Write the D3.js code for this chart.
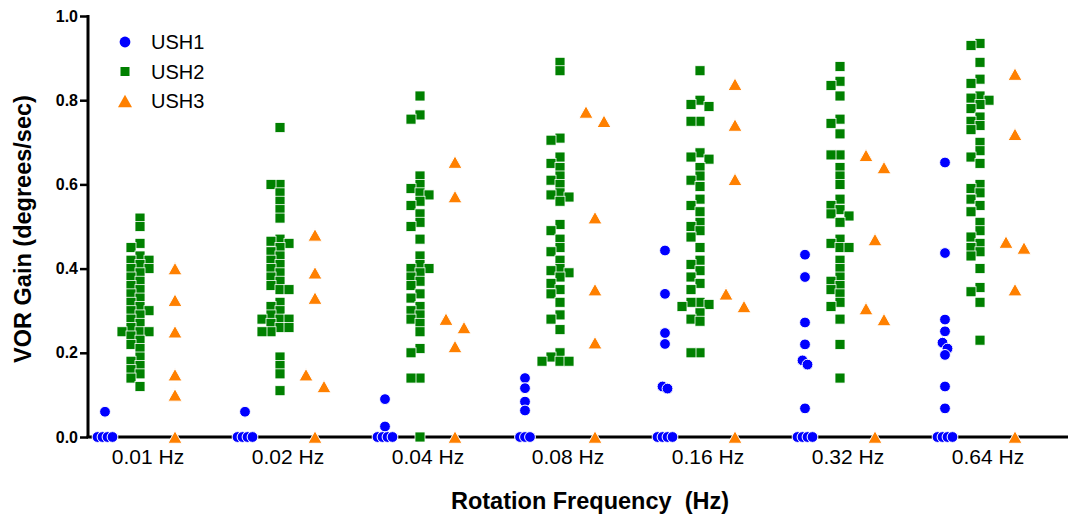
<!DOCTYPE html>
<html><head><meta charset="utf-8">
<script src="https://cdn.jsdelivr.net/npm/d3@7"></script>
<style>
body{margin:0;background:#fff}
svg{display:block}
text{font-family:"Liberation Sans",Arial,Helvetica,sans-serif;fill:#000;white-space:pre}
</style>
</head><body>
<svg id="chart" width="1068" height="515"></svg>
<script>
// ---------------- data ----------------
const frequencies = ["0.01 Hz","0.02 Hz","0.04 Hz","0.08 Hz","0.16 Hz","0.32 Hz","0.64 Hz"];
const seriesNames = ["USH1","USH2","USH3"];
const yTickValues = [0.0,0.2,0.4,0.6,0.8,1.0];
const yTitle = "VOR Gain (degrees/sec)";
const xTitle = "Rotation Frequency  (Hz)";

// USH1 (circles), one list per frequency
const ush1 = [
  [0.06,0,0,0,0],
  [0.06,0,0,0,0],
  [0.09,0.025,0,0,0,0],
  [0.14,0.116,0.084,0.063,0,0,0],
  [0.443,0.34,0.247,0.221,0.12,0.115,0,0,0,0],
  [0.433,0.38,0.272,0.22,0.182,0.172,0.068,0,0,0,0],
  [0.652,0.437,0.279,0.251,0.224,0.21,0.195,0.12,0.068,0,0,0,0]
];
// USH2 (squares)
const ush2 = [
  [0.52,0.50,0.46,0.45,0.43,0.42,0.42,0.41,0.40,0.40,0.39,0.38,0.37,0.36,0.35,0.34,0.33,0.32,0.31,0.30,0.30,0.29,0.28,0.27,0.26,0.25,0.25,0.25,0.24,0.23,0.22,0.21,0.19,0.18,0.17,0.16,0.15,0.14,0.12],
  [0.735,0.60,0.60,0.58,0.56,0.54,0.52,0.47,0.465,0.46,0.45,0.44,0.43,0.42,0.41,0.40,0.39,0.38,0.37,0.36,0.35,0.35,0.32,0.31,0.30,0.29,0.28,0.28,0.28,0.27,0.26,0.26,0.25,0.25,0.19,0.17,0.15,0.11],
  [0.81,0.765,0.755,0.62,0.60,0.59,0.58,0.575,0.56,0.55,0.53,0.51,0.50,0.47,0.43,0.41,0.40,0.40,0.39,0.38,0.37,0.36,0.34,0.33,0.31,0.30,0.29,0.28,0.27,0.25,0.21,0.20,0.14,0.14,0.0],
  [0.89,0.87,0.71,0.705,0.665,0.65,0.64,0.62,0.61,0.60,0.58,0.575,0.57,0.56,0.505,0.49,0.47,0.45,0.44,0.42,0.40,0.395,0.39,0.38,0.365,0.35,0.34,0.32,0.29,0.28,0.255,0.20,0.19,0.18,0.18,0.18],
  [0.87,0.80,0.79,0.785,0.75,0.75,0.675,0.665,0.66,0.64,0.62,0.61,0.595,0.565,0.55,0.535,0.51,0.50,0.49,0.475,0.45,0.42,0.41,0.395,0.38,0.365,0.35,0.32,0.32,0.315,0.31,0.295,0.28,0.275,0.20,0.20],
  [0.88,0.845,0.835,0.81,0.755,0.745,0.72,0.67,0.67,0.64,0.62,0.60,0.565,0.55,0.54,0.53,0.525,0.51,0.47,0.46,0.45,0.45,0.42,0.40,0.38,0.37,0.36,0.35,0.34,0.32,0.31,0.28,0.22,0.14],
  [0.935,0.93,0.89,0.85,0.84,0.81,0.805,0.80,0.79,0.78,0.76,0.75,0.74,0.73,0.70,0.68,0.665,0.65,0.60,0.59,0.58,0.565,0.55,0.535,0.51,0.49,0.475,0.46,0.45,0.44,0.43,0.40,0.355,0.345,0.32,0.23]
];
// USH3 (triangles)
const ush3 = [
  [0.40,0.325,0.25,0.148,0.10,0],
  [0.48,0.39,0.33,0.148,0.12,0],
  [0.653,0.571,0.28,0.26,0.215,0],
  [0.772,0.75,0.521,0.35,0.224,0],
  [0.838,0.741,0.612,0.34,0.31,0],
  [0.669,0.64,0.469,0.305,0.279,0],
  [0.862,0.719,0.463,0.449,0.35,0]
];

// ---------------- layout ----------------
const W = 1068, H = 515;
const svg = d3.select("#chart");
const colors = {USH1:"#0000ff", USH2:"#008000", USH3:"#ff8000"};

const y = d3.scaleLinear().domain([0,1]).range([437,16]);
const xGroup = d3.scalePoint().domain(frequencies).range([140,980]);
const xSeries = d3.scalePoint().domain(seriesNames).range([-35,35]);
const pxPerUnit = y(0) - y(1);

// axes
const yAxis = d3.axisLeft(y).tickValues(yTickValues).tickFormat(d3.format(".1f")).tickSize(8).tickSizeOuter(0);
const gy = svg.append("g").attr("transform","translate(88,0)").call(yAxis);
gy.select(".domain").attr("stroke","#000").attr("stroke-width",3).attr("d",`M0,${y(1)-1}V${y(0)}`);
gy.selectAll(".tick line").attr("stroke","#000").attr("stroke-width",2.5);
gy.selectAll(".tick text").attr("x",-10).attr("font-size",16).attr("font-weight","bold")
  .attr("font-family","'Liberation Sans',Arial,sans-serif").attr("fill","#000");

svg.append("line").attr("x1",86.5).attr("x2",W).attr("y1",y(0)).attr("y2",y(0))
  .attr("stroke","#000").attr("stroke-width",3);

// x tick labels
svg.append("g").selectAll("text").data(frequencies).join("text")
  .attr("x",d=>xGroup(d)+8).attr("y",y(0)+27)
  .attr("text-anchor","middle").attr("font-size",21).text(d=>d);

// titles
svg.append("text").attr("x",590).attr("y",509).attr("text-anchor","middle")
  .attr("font-size",23.5).attr("font-weight","bold").attr("xml:space","preserve").text(xTitle);
svg.append("text").attr("transform","translate(31,229) rotate(-90)").attr("text-anchor","middle")
  .attr("font-size",23.5).attr("font-weight","bold").text(yTitle);

// symmetric row dodge (ties spread evenly)
function dodgeRows(values,rowPx,step){
  const items = values.map((v,i)=>({v,i})).sort((a,b)=>b.v-a.v);
  const out = new Array(values.length);
  let row = [];
  const flush = ()=>{const k=row.length; row.forEach((it,j)=>{out[it.i]=(j-(k-1)/2)*step;}); row=[];};
  items.forEach(it=>{
    if(row.length && (row[0].v-it.v)*pxPerUnit >= rowPx) flush();
    row.push(it);
  });
  flush();
  return out;
}
// greedy dodge (first free slot among 0, -d, +d, ...)
function dodgeGreedy(values,ry,d){
  const items = values.map((v,i)=>({v,i})).sort((a,b)=>b.v-a.v);
  const out = new Array(values.length);
  const placed = [];
  const cands = [0,-d,d,-2*d,2*d,-3*d,3*d];
  items.forEach(it=>{
    const py = it.v*pxPerUnit;
    let chosen = cands[cands.length-1];
    for(const c of cands){
      if(!placed.some(p=>Math.abs(p.y-py)<ry && Math.abs(p.x-c)<d*0.99)){chosen=c;break;}
    }
    placed.push({x:chosen,y:py});
    out[it.i]=chosen;
  });
  return out;
}

const circleSym = d3.symbol().type(d3.symbolCircle).size(Math.PI*5.4*5.4);
const squareSide = 10;
const triW = 14, triH = 12.5;
const triPath = `M0,${-triH/2}L${triW/2},${triH/2}L${-triW/2},${triH/2}Z`;

function pointsFor(series, lists, dodgeFn){
  const pts = [];
  lists.forEach((vals,gi)=>{
    const off = dodgeFn(vals);
    vals.forEach((v,k)=>pts.push({x:xGroup(frequencies[gi])+xSeries(series)+off[k], y:y(v)}));
  });
  return pts;
}

const p1 = pointsFor("USH1", ush1, v=>dodgeRows(v,8,5));
const p2 = pointsFor("USH2", ush2, v=>dodgeGreedy(v,7,9));
const p3 = pointsFor("USH3", ush3, v=>dodgeRows(v,13,18));

svg.append("g").selectAll("path").data(p1).join("path")
  .attr("d",circleSym).attr("transform",d=>`translate(${d.x},${d.y})`)
  .attr("fill",colors.USH1).attr("stroke","#fff").attr("stroke-width",1);
svg.append("g").selectAll("rect").data(p2).join("rect")
  .attr("x",d=>d.x-squareSide/2).attr("y",d=>d.y-squareSide/2)
  .attr("width",squareSide).attr("height",squareSide)
  .attr("fill",colors.USH2).attr("stroke","#fff").attr("stroke-width",0.8);
svg.append("g").selectAll("path").data(p3).join("path")
  .attr("d",triPath).attr("transform",d=>`translate(${d.x},${d.y})`)
  .attr("fill",colors.USH3).attr("stroke","#fff").attr("stroke-width",1);

// legend
const legend = svg.append("g");
const legY = d3.scalePoint().domain(seriesNames).range([42,101]);
legend.append("path").attr("d",circleSym).attr("transform",`translate(125,${legY("USH1")})`).attr("fill",colors.USH1);
legend.append("rect").attr("x",125-4.5).attr("y",legY("USH2")-4.5).attr("width",9).attr("height",9).attr("fill",colors.USH2);
legend.append("path").attr("d",triPath).attr("transform",`translate(125,${legY("USH3")})`).attr("fill",colors.USH3);
legend.selectAll("text").data(seriesNames).join("text")
  .attr("x",151).attr("y",d=>legY(d)+7).attr("font-size",20).text(d=>d);
</script>
</body></html>
